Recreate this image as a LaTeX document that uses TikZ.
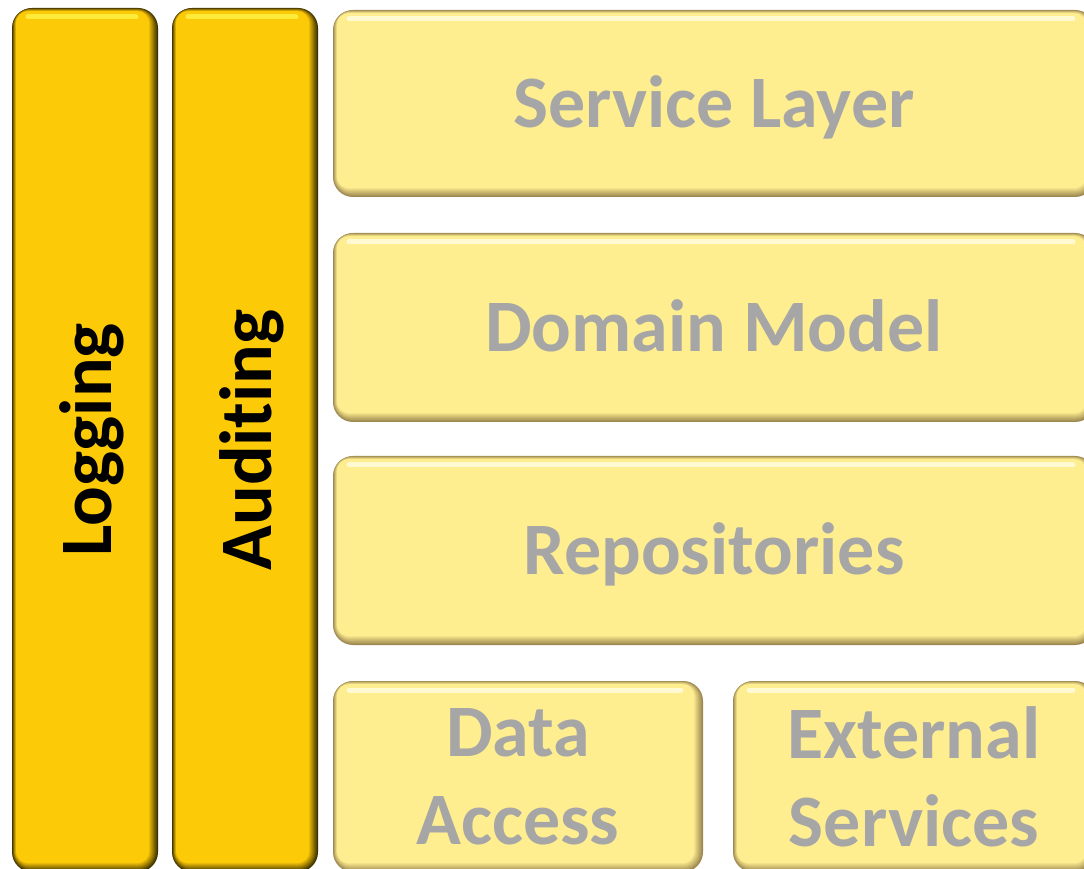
\documentclass[tikz,border=0pt]{standalone}
\usepackage{fontspec}
\setmainfont{Carlito}[Ligatures=NoCommon]
\usepackage{xcolor}
\usepackage{tikz}
\definecolor{barfill}{HTML}{FDCA08}
\definecolor{bardark}{HTML}{3F3200}
\definecolor{barhigh}{HTML}{FFEC3A}
\definecolor{layerfill}{HTML}{FFEE90}
\definecolor{layerdark}{HTML}{9C8850}
\definecolor{layerhigh}{HTML}{FFFAD2}
\definecolor{labelgray}{HTML}{A6A6A6}
\tikzset{
  node:bevel/.style n args={3}{rectangle,rounded corners=20pt,fill=#2,inner sep=0pt,
    path picture={
      \foreach \i in {1,...,8} {
        \pgfmathtruncatemacro\mixpct{\i*100/8}
        \pgfmathsetmacro\rad{20-\i}
        \fill[#1!\mixpct!#2, rounded corners=\rad pt]
          ([shift={(\i*0.5pt,\i*1.1pt)}]path picture bounding box.south west)
          rectangle ([shift={(-\i*1.1pt,-\i*0.4pt)}]path picture bounding box.north east);
      }
      \draw[#3, line width=5pt, line cap=round]
        ([shift={(16pt,-9pt)}]path picture bounding box.north west)
        -- ([shift={(-22pt,-9pt)}]path picture bounding box.north east);
    }}
}
\tikzstyle{node:bar}=[node:bevel={barfill}{bardark}{barhigh},minimum width=146pt,minimum height=864pt]
\tikzstyle{node:bartext}=[rotate=90,text=black,font=\bfseries\fontsize{74}{88}\selectfont]
\tikzstyle{node:layer}=[node:bevel={layerfill}{layerdark}{layerhigh},text=labelgray,
  align=center,font=\bfseries\fontsize{74}{88}\selectfont]
\tikzstyle{node:oneline}=[text height=48pt,text depth=0pt]

\begin{document}
\begin{tikzpicture}[x=1pt,y=1pt]
        \useasboundingbox (0,0) rectangle (1084,868);
        \clip (0,0) rectangle (1084,868);

        % Cross-cutting bars
        \node[node:bar] (logging) at (85,428) {};
        \node[node:bar] (auditing) at (245,428) {};
        \node[node:bartext] (logging-label) at ([xshift=7pt]logging.center) {Logging};
        \node[node:bartext] (auditing-label) at ([xshift=7pt]auditing.center) {Auditing};

        % Layers
        \node[node:layer,node:oneline,minimum width=762pt,minimum height=187pt] (service) at (714,764.5) {Service Layer};
        \node[node:layer,node:oneline,minimum width=762pt,minimum height=189pt] (domain) at (714,540.5) {Domain Model};
        \node[node:layer,node:oneline,minimum width=762pt,minimum height=189pt] (repos) at (714,317.5) {Repositories};

        % Bottom row
        \node[node:layer,minimum width=370pt,minimum height=191pt] (dataaccess) at (518,91.5) {Data\\Access};
        \node[node:layer,minimum width=362pt,minimum height=191pt] (external) at (914,91.5) {External\\Services};

    \end{tikzpicture}
\end{document}
